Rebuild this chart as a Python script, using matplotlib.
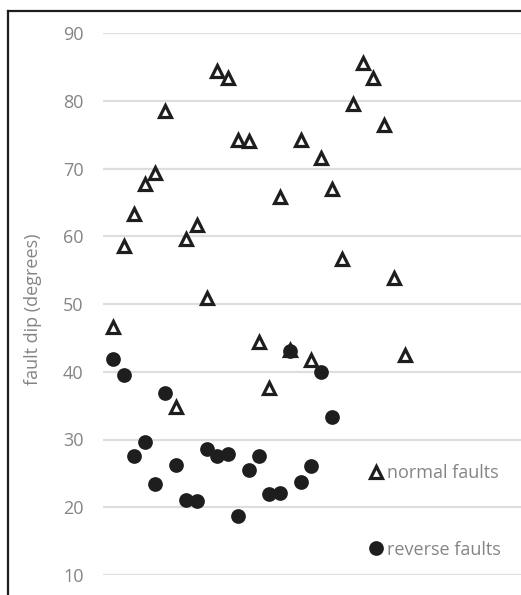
import matplotlib
matplotlib.use('Agg')
import matplotlib.pyplot as plt
from matplotlib.lines import Line2D

plt.rcParams['font.family'] = ['Open Sans', 'DejaVu Sans']

# ============================================================
# data
# ============================================================
normal_dip = [46.6, 58.6, 63.3, 67.7, 69.4, 78.5, 34.8, 59.6, 61.6, 50.9,
              84.4, 83.3, 74.2, 74.0, 44.4, 37.6, 65.8, 43.2, 74.2, 41.8,
              71.6, 67.0, 56.7, 79.5, 85.6, 83.4, 76.4, 53.9, 42.5]
reverse_dip = [41.9, 39.5, 27.5, 29.6, 23.4, 36.9, 26.3, 21.0, 20.9, 28.6,
               27.5, 27.8, 18.7, 25.5, 27.5, 21.9, 22.1, 43.0, 23.8, 26.1,
               40.0, 33.3]
normal_idx = list(range(1, len(normal_dip) + 1))
reverse_idx = list(range(1, len(reverse_dip) + 1))
y_ticks = [10, 20, 30, 40, 50, 60, 70, 80, 90]

INK = '#1e1e1e'
GREY_TXT = '#858585'
GRID = '#dedede'
FS = 13

W, H = 521, 595
fig = plt.figure(figsize=(W / 100, H / 100), dpi=100)
ax = fig.add_axes([103 / W, (H - 575) / H, (W - 103) / W, (575 - 33) / H])

ax.plot(normal_idx, normal_dip, linestyle='none', marker='^', ms=8.8,
        mfc='white', mec=INK, mew=2.3, label='normal faults', zorder=3)
ax.plot(reverse_idx, reverse_dip, linestyle='none', marker='o', ms=10.6,
        mfc=INK, mec=INK, mew=0, label='reverse faults', zorder=4)

ax.set_xlim(0, 40.2)
ax.set_ylim(10, 90)
ax.set_yticks(y_ticks)
ax.set_xticks([])
ax.grid(axis='y', color=GRID, lw=1.6, zorder=0)
ax.tick_params(axis='y', length=0, pad=14, labelsize=FS, labelcolor=GREY_TXT)
for s in ax.spines.values():
    s.set_visible(False)
ax.set_ylabel('fault dip (degrees)', fontsize=FS, color=GREY_TXT)
ax.yaxis.set_label_coords(-(103 - 42) / (W - 103), 0.49)

leg = ax.legend(loc='upper left', bbox_to_anchor=(362 / W, (H - 455) / H),
                bbox_transform=fig.transFigure, frameon=False,
                handlelength=0.6, handletextpad=0.3, labelspacing=3.25,
                fontsize=FS, borderpad=0, markerscale=1.0)
for t in leg.get_texts():
    t.set_color(GREY_TXT)

# chart border (only top and left visible in the crop)
fig.add_artist(Line2D([7.5 / W, 7.5 / W], [0, (H - 11) / H], transform=fig.transFigure,
                      color=INK, lw=1.6, solid_capstyle='projecting'))
fig.add_artist(Line2D([7.5 / W, 1], [(H - 11) / H, (H - 11) / H], transform=fig.transFigure,
                      color=INK, lw=1.6, solid_capstyle='projecting'))

fig.savefig('out.png', dpi=100)
